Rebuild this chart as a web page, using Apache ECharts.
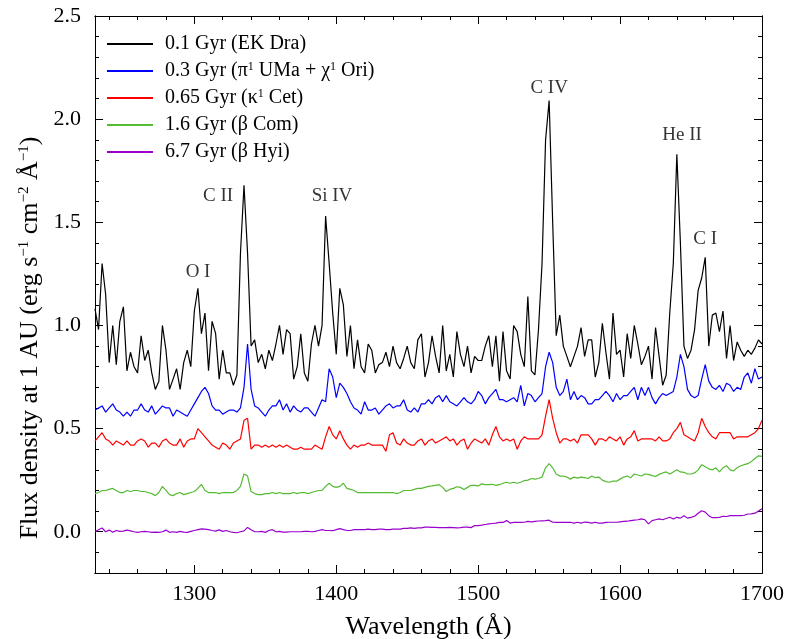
<!DOCTYPE html>
<html><head><meta charset="utf-8">
<script src="https://cdn.jsdelivr.net/npm/echarts@6/dist/echarts.min.js"></script>
<style>html,body{margin:0;padding:0;background:#fff}#c{width:787px;height:639px}</style>
</head><body><div id="c"></div>
<script>
const wavelength = [
1230,1232.5,1235,1237.5,1240,1242.5,1245,1247.5,1250,1252.5,
1255,1257.5,1260,1262.5,1265,1267.5,1270,1272.5,1275,1277.5,
1280,1282.5,1285,1287.5,1290,1292.5,1295,1297.5,1300,1302.5,
1305,1307.5,1310,1312.5,1315,1317.5,1320,1322.5,1325,1327.5,
1330,1332.5,1335,1337.5,1340,1342.5,1345,1347.5,1350,1352.5,
1355,1357.5,1360,1362.5,1365,1367.5,1370,1372.5,1375,1377.5,
1380,1382.5,1385,1387.5,1390,1392.5,1395,1397.5,1400,1402.5,
1405,1407.5,1410,1412.5,1415,1417.5,1420,1422.5,1425,1427.5,
1430,1432.5,1435,1437.5,1440,1442.5,1445,1447.5,1450,1452.5,
1455,1457.5,1460,1462.5,1465,1467.5,1470,1472.5,1475,1477.5,
1480,1482.5,1485,1487.5,1490,1492.5,1495,1497.5,1500,1502.5,
1505,1507.5,1510,1512.5,1515,1517.5,1520,1522.5,1525,1527.5,
1530,1532.5,1535,1537.5,1540,1542.5,1545,1547.5,1550,1552.5,
1555,1557.5,1560,1562.5,1565,1567.5,1570,1572.5,1575,1577.5,
1580,1582.5,1585,1587.5,1590,1592.5,1595,1597.5,1600,1602.5,
1605,1607.5,1610,1612.5,1615,1617.5,1620,1622.5,1625,1627.5,
1630,1632.5,1635,1637.5,1640,1642.5,1645,1647.5,1650,1652.5,
1655,1657.5,1660,1662.5,1665,1667.5,1670,1672.5,1675,1677.5,
1680,1682.5,1685,1687.5,1690,1692.5,1695,1697.5,1700];

const fluxEKDra = [
1.08,0.98,1.30,1.15,0.82,1.00,0.81,1.02,1.09,0.78,
0.87,0.80,0.77,0.95,0.83,0.88,0.77,0.69,0.73,1.00,
0.88,0.69,0.74,0.79,0.69,0.82,0.88,0.80,1.07,1.18,
0.96,1.06,0.78,1.02,0.96,0.74,0.88,0.77,0.77,0.71,
0.76,1.35,1.68,1.35,0.90,0.93,0.82,0.86,0.79,0.88,
0.83,0.91,1.00,0.86,0.98,0.96,0.74,0.80,0.96,0.77,
0.73,0.91,1.00,0.90,1.00,1.53,1.30,1.06,0.86,1.18,
1.10,0.85,1.00,0.79,0.93,0.80,0.77,0.91,0.88,0.77,
0.81,0.82,0.87,0.80,0.90,0.82,0.79,0.84,0.90,0.82,
0.79,0.93,0.96,0.75,0.82,0.95,0.85,0.77,1.00,0.78,
0.86,0.75,0.97,0.86,0.80,0.90,0.77,0.85,0.83,0.83,
0.90,0.95,0.80,0.95,0.73,0.97,0.78,0.74,1.00,0.97,
0.86,0.80,1.14,0.78,0.76,0.98,1.30,1.90,2.09,1.50,
0.95,1.05,0.90,0.85,0.80,0.85,0.90,0.99,0.85,0.93,
0.93,0.75,0.82,1.01,0.87,0.74,1.06,0.86,0.88,0.75,
0.96,0.84,1.00,0.91,0.81,0.85,0.90,0.74,0.99,0.85,
0.71,0.76,1.06,1.30,1.83,1.40,0.90,0.84,0.88,0.98,
1.17,1.23,1.33,0.90,1.05,1.06,0.97,1.07,0.84,1.00,
0.83,0.92,0.88,0.85,0.88,0.86,0.89,0.93,0.91];

const fluxPiUMa = [
0.59,0.60,0.61,0.58,0.60,0.62,0.59,0.58,0.56,0.58,
0.56,0.59,0.59,0.62,0.59,0.58,0.61,0.57,0.59,0.61,
0.60,0.60,0.56,0.59,0.58,0.57,0.56,0.59,0.62,0.65,
0.68,0.70,0.67,0.61,0.59,0.59,0.57,0.58,0.59,0.59,
0.58,0.60,0.70,0.91,0.69,0.61,0.60,0.58,0.56,0.59,
0.61,0.61,0.64,0.59,0.62,0.58,0.61,0.59,0.58,0.60,
0.60,0.58,0.56,0.60,0.64,0.63,0.79,0.75,0.65,0.72,
0.70,0.67,0.63,0.60,0.59,0.57,0.63,0.59,0.59,0.60,
0.57,0.59,0.61,0.62,0.60,0.61,0.61,0.64,0.59,0.58,
0.60,0.58,0.62,0.62,0.64,0.62,0.65,0.66,0.63,0.66,
0.63,0.62,0.61,0.63,0.65,0.63,0.62,0.64,0.68,0.66,
0.62,0.65,0.67,0.69,0.64,0.64,0.63,0.64,0.65,0.63,
0.71,0.61,0.67,0.66,0.63,0.65,0.67,0.80,0.87,0.82,
0.70,0.66,0.68,0.74,0.64,0.68,0.64,0.66,0.65,0.62,
0.62,0.64,0.64,0.66,0.68,0.66,0.63,0.67,0.64,0.66,
0.66,0.68,0.70,0.64,0.70,0.66,0.70,0.65,0.62,0.65,
0.67,0.66,0.67,0.68,0.75,0.86,0.80,0.69,0.66,0.65,
0.66,0.74,0.81,0.73,0.70,0.69,0.71,0.68,0.72,0.71,
0.68,0.70,0.69,0.75,0.77,0.72,0.79,0.74,0.75];

const fluxKappaCet = [
0.44,0.46,0.48,0.45,0.44,0.42,0.44,0.43,0.42,0.44,
0.42,0.42,0.44,0.45,0.44,0.41,0.43,0.43,0.41,0.44,
0.45,0.43,0.42,0.42,0.45,0.41,0.44,0.45,0.45,0.50,
0.48,0.46,0.44,0.42,0.41,0.40,0.43,0.42,0.40,0.43,
0.44,0.45,0.54,0.55,0.40,0.42,0.42,0.41,0.42,0.41,
0.42,0.41,0.42,0.41,0.42,0.41,0.40,0.40,0.41,0.40,
0.40,0.40,0.42,0.41,0.40,0.46,0.51,0.47,0.45,0.49,
0.45,0.42,0.40,0.42,0.41,0.42,0.42,0.43,0.42,0.42,
0.42,0.42,0.39,0.47,0.48,0.43,0.42,0.45,0.43,0.42,
0.42,0.44,0.45,0.42,0.44,0.45,0.43,0.44,0.45,0.46,
0.44,0.45,0.42,0.44,0.45,0.40,0.43,0.45,0.44,0.43,
0.45,0.42,0.47,0.51,0.46,0.44,0.45,0.44,0.45,0.40,
0.44,0.46,0.45,0.45,0.45,0.45,0.47,0.56,0.64,0.55,
0.48,0.43,0.45,0.45,0.44,0.45,0.43,0.47,0.47,0.47,
0.45,0.42,0.45,0.45,0.44,0.46,0.45,0.44,0.46,0.42,
0.45,0.46,0.49,0.44,0.45,0.45,0.45,0.45,0.44,0.46,
0.44,0.44,0.45,0.48,0.50,0.53,0.47,0.46,0.45,0.44,
0.48,0.55,0.51,0.48,0.46,0.45,0.48,0.48,0.48,0.48,
0.45,0.46,0.46,0.46,0.46,0.47,0.48,0.50,0.54];

const fluxBetaCom = [
0.185,0.19,0.20,0.20,0.205,0.21,0.20,0.19,0.19,0.20,
0.195,0.20,0.20,0.195,0.195,0.19,0.185,0.175,0.19,0.22,
0.20,0.18,0.175,0.185,0.19,0.18,0.185,0.19,0.195,0.21,
0.23,0.20,0.19,0.19,0.19,0.185,0.19,0.19,0.19,0.19,
0.20,0.22,0.28,0.27,0.195,0.185,0.18,0.18,0.185,0.185,
0.19,0.185,0.19,0.185,0.185,0.185,0.19,0.185,0.19,0.19,
0.185,0.19,0.195,0.20,0.20,0.22,0.235,0.22,0.215,0.22,
0.235,0.21,0.205,0.20,0.19,0.19,0.19,0.19,0.19,0.19,
0.19,0.19,0.19,0.19,0.19,0.185,0.19,0.20,0.20,0.20,
0.205,0.21,0.21,0.215,0.22,0.222,0.225,0.228,0.215,0.195,
0.205,0.21,0.218,0.215,0.205,0.215,0.225,0.225,0.222,0.232,
0.228,0.228,0.23,0.225,0.228,0.235,0.24,0.235,0.24,0.235,
0.24,0.248,0.25,0.258,0.255,0.258,0.265,0.31,0.33,0.31,
0.28,0.27,0.27,0.265,0.255,0.265,0.26,0.265,0.262,0.258,
0.27,0.262,0.265,0.25,0.243,0.24,0.245,0.245,0.255,0.265,
0.27,0.262,0.28,0.275,0.27,0.28,0.278,0.272,0.268,0.278,
0.285,0.29,0.28,0.29,0.30,0.29,0.288,0.28,0.28,0.285,
0.30,0.325,0.315,0.305,0.30,0.31,0.29,0.31,0.32,0.30,
0.295,0.31,0.32,0.325,0.33,0.34,0.355,0.368,0.365];

const fluxBetaHyi = [
0.0,0.01,0.018,0.0,0.008,-0.002,0.006,0.002,0.003,0.008,
0.004,0.0,-0.003,0.0,0.002,0.0,-0.003,-0.002,-0.003,0.0,
0.008,-0.003,0.0,-0.003,0.002,-0.002,-0.003,0.002,0.006,0.01,
0.014,0.013,0.01,0.006,0.003,0.009,0.002,0.006,0.0,-0.003,
-0.005,0.0,0.004,0.021,0.01,0.0,0.0,0.002,-0.003,0.006,
0.01,0.0,0.002,-0.002,-0.002,0.0,0.0,0.0,0.0,0.002,
0.002,0.0,0.002,0.006,0.01,0.006,0.006,0.005,0.01,0.015,
0.01,0.006,0.006,0.01,0.01,0.01,0.01,0.013,0.01,0.01,
0.013,0.013,0.01,0.01,0.013,0.013,0.013,0.016,0.016,0.019,
0.016,0.019,0.019,0.022,0.022,0.021,0.021,0.02,0.02,0.02,
0.021,0.02,0.019,0.02,0.022,0.022,0.02,0.03,0.03,0.032,
0.035,0.038,0.04,0.042,0.045,0.045,0.054,0.042,0.045,0.046,
0.045,0.046,0.05,0.048,0.05,0.052,0.053,0.054,0.056,0.046,
0.045,0.046,0.045,0.045,0.046,0.042,0.046,0.042,0.047,0.045,
0.042,0.046,0.042,0.042,0.045,0.046,0.046,0.046,0.048,0.05,
0.051,0.054,0.056,0.058,0.062,0.058,0.038,0.054,0.058,0.062,
0.058,0.064,0.07,0.062,0.07,0.066,0.078,0.066,0.07,0.075,
0.09,0.102,0.095,0.078,0.068,0.068,0.07,0.075,0.074,0.078,
0.078,0.078,0.078,0.08,0.086,0.087,0.09,0.10,0.112];

const seriesNames = ['0.1 Gyr (EK Dra)', '0.3 Gyr (π1 UMa + χ1 Ori)', '0.65 Gyr (κ1 Cet)', '1.6 Gyr (β Com)', '6.7 Gyr (β Hyi)'];
const legendRich = ['0.1 Gyr (EK Dra)', '0.3 Gyr (π{sup|1} UMa + χ{sup|1} Ori)', '0.65 Gyr (κ{sup|1} Cet)', '1.6 Gyr (β Com)', '6.7 Gyr (β Hyi)'];
const seriesColors = ['#000000', '#0000ff', '#ff0000', '#55bb33', '#9900cc'];
const seriesFlux = [fluxEKDra, fluxPiUMa, fluxKappaCet, fluxBetaCom, fluxBetaHyi];

const lineLabels = ['O I', 'C II', 'Si IV', 'C IV', 'He II', 'C I'];
const lineLabelX = [1302.6, 1316.7, 1397, 1550, 1643.7, 1659.9];
const lineLabelY = [1.26, 1.625, 1.625, 2.149, 1.921, 1.42];

// tick grids (evenly spaced categories spanning the axis range exactly)
const xTickValues = ['1230','1240','1250','1260','1270','1280','1290','1300','1310','1320','1330','1340',
  '1350','1360','1370','1380','1390','1400','1410','1420','1430','1440','1450','1460','1470','1480',
  '1490','1500','1510','1520','1530','1540','1550','1560','1570','1580','1590','1600','1610','1620',
  '1630','1640','1650','1660','1670','1680','1690','1700'];
const yTickValues = ['-0.2','-0.1','0.0','0.1','0.2','0.3','0.4','0.5','0.6','0.7','0.8','0.9','1.0',
  '1.1','1.2','1.3','1.4','1.5','1.6','1.7','1.8','1.9','2.0','2.1','2.2','2.3','2.4','2.5'];

const F = '"Liberation Serif", "Times New Roman", serif';
const X0 = 1230, X1 = 1700, Y0 = -0.2, Y1 = 2.5;

const isXMajor = (i, v) => Number(v) % 100 === 0;
const isXMinor = (i, v) => Number(v) % 20 === 0 && Number(v) % 100 !== 0;
const isYMajor = (i, v) => Math.round(Number(v) * 10) % 5 === 0 && Number(v) >= 0;
const isYMinor = (i, v) => !isYMajor(i, v) && Number(v) > -0.15;

// ticks point into the plot: outward direction with a negative length
function tickAx(kind, pos, fn, len, labels) {
  const ax = {
    type: 'category', position: pos, data: kind === 'x' ? xTickValues : yTickValues,
    boundaryGap: false, gridIndex: 0,
    axisLine: {show: true, onZero: false, lineStyle: {color: '#000', width: 1}},
    axisTick: {show: true, inside: false, length: -len, interval: fn,
      lineStyle: {color: '#000', width: 1}},
    axisLabel: {show: false},
    splitLine: {show: false}, axisPointer: {show: false}
  };
  if (labels) {
    ax.axisLabel = {show: true, interval: fn, margin: kind === 'x' ? 10 : 14,
      fontFamily: F, fontSize: 22, color: '#000'};
  }
  return ax;
}

const xAxes = [
  {type: 'value', position: 'bottom', min: X0, max: X1, gridIndex: 0,
   axisLine: {show: false, onZero: false}, axisTick: {show: false}, axisLabel: {show: false}, splitLine: {show: false},
   name: 'Wavelength (Å)', nameLocation: 'middle', nameGap: 41,
   nameTextStyle: {fontFamily: F, fontSize: 26, color: '#000'}},
  tickAx('x', 'bottom', isXMajor, 8, true),
  tickAx('x', 'bottom', isXMinor, 4, false),
  tickAx('x', 'top', isXMajor, 8, false),
  tickAx('x', 'top', isXMinor, 4, false)
];
const yAxes = [
  {type: 'value', position: 'left', min: Y0, max: Y1, gridIndex: 0,
   axisLine: {show: false, onZero: false}, axisTick: {show: false}, axisLabel: {show: false}, splitLine: {show: false}},
  tickAx('y', 'left', isYMajor, 8, true),
  tickAx('y', 'left', isYMinor, 4, false),
  tickAx('y', 'right', isYMajor, 8, false),
  tickAx('y', 'right', isYMinor, 4, false)
];

const series = seriesNames.map((nm, k) => ({
  name: nm, type: 'line', xAxisIndex: 0, yAxisIndex: 0,
  data: wavelength.map((w, i) => [w, seriesFlux[k][i]]),
  showSymbol: false, symbol: 'none', smooth: false,
  lineStyle: {color: seriesColors[k], width: 1.2},
  itemStyle: {color: seriesColors[k]},
  z: 10 - k, silent: true
}));
series.push({
  name: 'labels', type: 'scatter', xAxisIndex: 0, yAxisIndex: 0,
  data: lineLabels.map((t, i) => ({name: t, value: [lineLabelX[i], lineLabelY[i]]})),
  symbolSize: 0, silent: true,
  label: {show: true, position: 'inside', formatter: p => p.name, fontFamily: F, fontSize: 19, color: '#000'}
});

const chart = echarts.init(document.getElementById('c'), null, {renderer: 'canvas'});
chart.setOption({
  animation: false,
  backgroundColor: '#fff',
  textStyle: {fontFamily: F},
  grid: {left: 95, right: 25, top: 16, bottom: 66, containLabel: false, outerBoundsMode: 'none'},
  xAxis: xAxes,
  yAxis: yAxes,
  legend: {
    data: seriesNames, orient: 'vertical', left: 107, top: 34, padding: 0,
    itemWidth: 46, itemHeight: 2, itemGap: 7, icon: 'rect',
    formatter: nm => legendRich[seriesNames.indexOf(nm)],
    textStyle: {fontFamily: F, fontSize: 20, color: '#000', lineHeight: 20, padding: [0, 0, 0, 7],
      rich: {sup: {fontFamily: F, fontSize: 12, color: '#000', verticalAlign: 'top', lineHeight: 12}}},
    selectedMode: false
  },
  graphic: [{
    type: 'text', x: 30, y: 338, rotation: Math.PI / 2, silent: true,
    style: {
      text: 'Flux density at 1 AU (erg s{sup|−1} cm{sup|−2} Å{sup|−1})',
      fontFamily: F, fontSize: 26, fill: '#000',
      align: 'center', verticalAlign: 'middle', textAlign: 'center', textVerticalAlign: 'middle',
      lineHeight: 26,
      rich: {sup: {fontFamily: F, fontSize: 15, fill: '#000', verticalAlign: 'top', lineHeight: 15}}
    }
  }],
  series: series
});
</script>
</body></html>
